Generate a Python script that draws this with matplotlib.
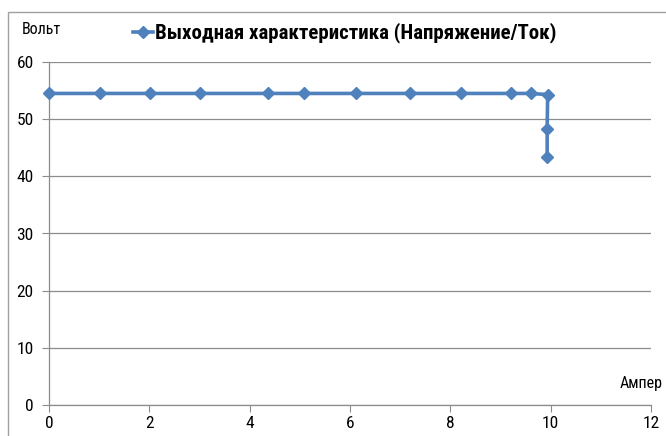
import matplotlib
matplotlib.use("Agg")
import matplotlib.pyplot as plt

current_a = [0, 1.02, 2.01, 3.01, 4.36, 5.08, 6.12, 7.19, 8.21, 9.2, 9.6, 9.94, 9.93, 9.93]
voltage_v = [54.5, 54.5, 54.5, 54.5, 54.5, 54.5, 54.5, 54.5, 54.5, 54.5, 54.5, 54.3, 48.3, 43.4]
series_name = 'Выходная характеристика (Напряжение/Ток)'
x_ticks = [0, 2, 4, 6, 8, 10, 12]
y_ticks = [0, 10, 20, 30, 40, 50, 60]

plt.rcParams['font.family'] = ['Roboto Condensed', 'PT Sans Narrow', 'DejaVu Sans']

fig = plt.figure(figsize=(6.66, 4.36), dpi=100)
# outer chart border (extends past right and bottom edges)
fig.patches.append(plt.Rectangle((8/666, -0.05), 1.2, 1 - 12/436 + 0.05,
                                 transform=fig.transFigure, fill=False,
                                 edgecolor='#A0A0A0', linewidth=1.0))
ax = fig.add_axes([49/666, 1 - 405/436, 602/666, 343/436])

ax.plot(current_a, voltage_v, color='#4F81BD', linewidth=2.6, marker='D',
        markersize=6.5, label=series_name, clip_on=False, zorder=3)
ax.set_xlim(0, 12)
ax.set_ylim(0, 60)
ax.set_xticks(x_ticks)
ax.set_yticks(y_ticks)
ax.grid(axis='y', color='#8C8C8C', linewidth=0.9)
ax.set_axisbelow(True)
for s in ['top', 'right']:
    ax.spines[s].set_visible(False)
for s in ['left', 'bottom']:
    ax.spines[s].set_color('#8C8C8C')
    ax.spines[s].set_linewidth(0.9)
ax.tick_params(axis='x', direction='out', length=5, color='#8C8C8C', labelsize=12.5, pad=3)
ax.tick_params(axis='y', direction='out', length=5, color='#8C8C8C', labelsize=12.5, pad=6)

fig.text(22/666, 1 - 30/436, 'Вольт', fontsize=11.5, va='center', ha='left')
fig.text(620/666, 1 - 383/436, 'Ампер', fontsize=11.5, va='center', ha='left')

leg = ax.legend(loc='center', bbox_to_anchor=(345/666, 1 - 33/436),
                bbox_transform=fig.transFigure, frameon=False,
                prop={'weight': 'bold', 'size': 15},
                handlelength=0.95, handletextpad=0.1, borderpad=0)

fig.savefig('out.png', dpi=100)
